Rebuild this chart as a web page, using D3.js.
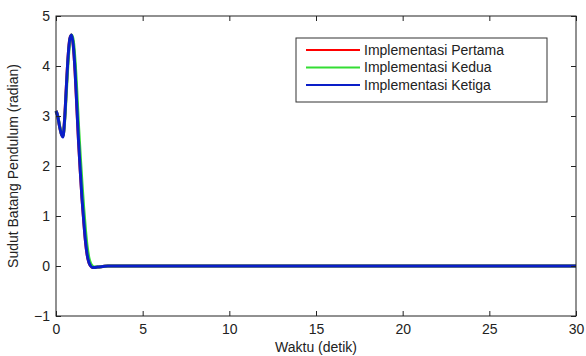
<!DOCTYPE html>
<html>
<head>
<meta charset="utf-8">
<script src="https://cdn.jsdelivr.net/npm/d3@7"></script>
<style>
  body { margin: 0; background: #fff; }
  text { font-family: "Liberation Sans", Arial, sans-serif; fill: #222; }
</style>
</head>
<body>
<div id="chart"></div>
<script>
// time (s) and angle (rad)
const timeA = [0, 0.1, 0.2, 0.3, 0.4, 0.5, 0.6, 0.7, 0.8, 0.9, 1.0, 1.1, 1.2, 1.3, 1.4, 1.5, 1.6, 1.7, 1.8, 1.9, 2.0, 2.1, 2.2, 2.4, 2.7, 3.0, 4.0, 30];
const pertama = [3.1, 3.0, 2.8, 2.65, 2.6, 2.95, 3.6, 4.2, 4.55, 4.62, 4.4, 3.9, 3.2, 2.5, 1.9, 1.35, 0.9, 0.5, 0.22, 0.07, 0.0, -0.03, -0.03, -0.02, -0.01, 0, 0, 0];
const kedua = [3.1, 3.0, 2.82, 2.66, 2.6, 2.9, 3.5, 4.1, 4.5, 4.62, 4.5, 4.1, 3.5, 2.8, 2.2, 1.65, 1.15, 0.72, 0.38, 0.16, 0.05, 0.0, -0.02, -0.02, -0.01, 0, 0, 0];
const ketiga = [3.1, 3.0, 2.8, 2.65, 2.58, 2.95, 3.6, 4.2, 4.55, 4.62, 4.4, 3.9, 3.2, 2.5, 1.9, 1.35, 0.9, 0.5, 0.22, 0.07, 0.0, -0.03, -0.03, -0.02, -0.01, 0, 0, 0];

const seriesNames = ["Implementasi Pertama", "Implementasi Kedua", "Implementasi Ketiga"];
const seriesColors = ["#ff0000", "#33dd33", "#0a1ec8"];
const xTicks = [0, 5, 10, 15, 20, 25, 30];
const yTicks = [-1, 0, 1, 2, 3, 4, 5];

const width = 586, height = 356;
const margin = { top: 16, right: 10, bottom: 40, left: 56 };
const innerW = width - margin.left - margin.right;
const innerH = height - margin.top - margin.bottom;

const svg = d3.select("#chart").append("svg")
    .attr("width", width)
    .attr("height", height);

const g = svg.append("g")
    .attr("transform", `translate(${margin.left},${margin.top})`);

const x = d3.scaleLinear().domain([0, 30]).range([0, innerW]);
const y = d3.scaleLinear().domain([-1, 5]).range([innerH, 0]);

// lines (drawn in legend order so blue ends on top)
const allSeries = [pertama, kedua, ketiga];
const line = d3.line()
    .x((d, i) => x(timeA[i]))
    .y(d => y(d))
    .curve(d3.curveMonotoneX);

allSeries.forEach((vals, k) => {
    g.append("path")
        .datum(vals)
        .attr("fill", "none")
        .attr("stroke", seriesColors[k])
        .attr("stroke-width", 3)
        .attr("d", line);
});

// box + axes, ticks inside
g.append("rect")
    .attr("width", innerW).attr("height", innerH)
    .attr("fill", "none").attr("stroke", "#222").attr("stroke-width", 1);

const tickStyle = sel => {
    sel.select(".domain").remove();
    sel.selectAll("line").attr("stroke", "#222");
    sel.selectAll("text").style("font-size", "14px").style("fill", "#222");
};

g.append("g").attr("transform", `translate(0,${innerH})`)
    .call(d3.axisBottom(x).tickValues(xTicks).tickSize(-5).tickPadding(8))
    .call(tickStyle);
g.append("g")
    .call(d3.axisTop(x).tickValues(xTicks).tickSize(-5).tickFormat(""))
    .call(tickStyle);
g.append("g")
    .call(d3.axisLeft(y).tickValues(yTicks).tickSize(-5).tickPadding(6).tickFormat(d3.format("d")))
    .call(tickStyle);
g.append("g").attr("transform", `translate(${innerW},0)`)
    .call(d3.axisRight(y).tickValues(yTicks).tickSize(-5).tickFormat(""))
    .call(tickStyle);

// axis titles
svg.append("text")
    .attr("x", margin.left + innerW / 2).attr("y", 352)
    .attr("text-anchor", "middle")
    .style("font-size", "14px")
    .text("Waktu (detik)");
svg.append("text")
    .attr("transform", `translate(18,${margin.top + innerH / 2}) rotate(-90)`)
    .attr("text-anchor", "middle")
    .style("font-size", "14px")
    .text("Sudut Batang Pendulum (radian)");

// legend
const legend = svg.append("g").attr("transform", "translate(296,38)");
legend.append("rect")
    .attr("width", 251).attr("height", 64)
    .attr("fill", "#fff").attr("stroke", "#333").attr("stroke-width", 1);
seriesNames.forEach((name, k) => {
    const row = legend.append("g").attr("transform", `translate(0,${12 + k * 17.5})`);
    row.append("line")
        .attr("x1", 10).attr("x2", 64)
        .attr("stroke", seriesColors[k]).attr("stroke-width", 2);
    row.append("text")
        .attr("x", 68).attr("dy", "0.35em")
        .style("font-size", "14px")
        .text(name);
});
</script>
</body>
</html>
